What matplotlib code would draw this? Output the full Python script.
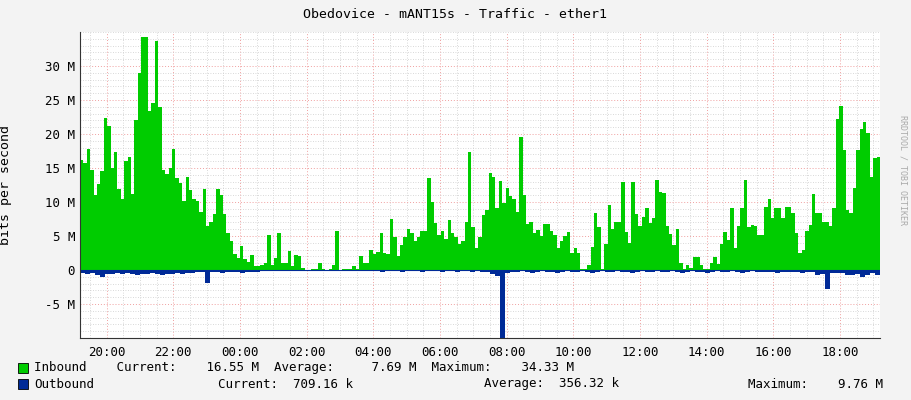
import numpy as np
import matplotlib
matplotlib.use("Agg")
import matplotlib.pyplot as plt
from matplotlib.ticker import MultipleLocator

# Inbound, Mbit/s, evenly spaced from 19:12 to 19:12 next day
inbound = [16.2,15.8,17.8,14.7,11,12.6,14.5,22.3,21.2,15,17.4,11.9,10.5,16,16.6,11.2,22,28.9,34.3,34.3,23.4,24.5,33.7,24,
 14.7,14.1,15,17.8,13.5,12.8,10.2,13.7,11.7,10.5,10.2,8.5,11.9,6.4,7,8.3,11.9,11,8.3,5.4,4.2,2.3,1.8,3.6,1.6,1.2,2.2,
 0.6,0.6,0.8,1.1,5.1,0.7,1.8,5.4,1.1,1,2.8,0.6,2.2,2,0.3,0,0,0.2,0.15,1,0.15,0,0.2,0.7,5.7,0,
 0.1,0.1,0.2,0.6,0.2,2,1.1,1,2.9,2.4,2.7,5.4,2.5,2.4,7.5,4.9,2,3.7,4.9,6.1,5.5,4.2,4.9,5.8,5.8,13.6,10,6.9,5.1,5.8,4.5,
 7.3,5.4,4.9,3.8,4.2,7.1,17.3,6.3,3.3,4.9,8.1,8.8,14.2,13.7,9.1,13.1,9.9,12,10.9,10.4,8.6,19.5,11,6.8,7.1,5.5,5.9,5,
 6.8,6.8,5.8,5.1,3.3,4.2,5,5.6,2.5,3.3,2.5,0.2,0.1,0.7,3.4,8.4,6.3,0.2,3.8,9.6,6.1,7,7.1,13,
 5.6,3.9,13,8.2,6.4,7.8,9.1,6.9,7.6,13.3,11.5,11.3,6.4,5.3,3.7,6.1,1.1,0.1,0.7,0.3,1.9,1.9,0.7,0.2,0.2,1,1.9,0.9,
 3.8,5.6,4.4,9.1,3.2,6.4,9.1,13.3,6.3,6.6,6.5,5.1,5.1,9.2,10.4,7.7,9.1,9.1,7.7,9.2,9.2,8.4,5.4,2.5,2.9,5.8,6.6,11.2,
 8.4,8.4,7.1,7.1,6.5,9.1,22.2,24.1,17.6,8.8,8.4,12,17.6,20.8,21.8,20.1,13.7,16.4,16.6]

outbound = ([-0.5,-0.6,-0.5,-0.7,-1.0,-0.6,-0.6,-0.5,-0.6,-0.5,-0.6,-0.7,-0.6,-0.6,-0.5,-0.6,-0.7,-0.6,-0.6,-0.5,-0.6,-0.4,-0.4,-0.3,-0.3,
 -1.9,
 -0.3,-0.3,-0.4,-0.3,-0.3,-0.3,-0.4,-0.3,-0.3,-0.3,-0.2,-0.2,-0.2,-0.1,-0.1,-0.1,-0.1,-0.1,-0.05,-0.05,-0.05,-0.05,-0.05,-0.05,-0.05,-0.05,-0.05,-0.1,-0.1,
 -0.1,-0.1,-0.2,-0.1,-0.1,-0.3,-0.1,-0.2,-0.2,-0.3,-0.1,-0.2,-0.2,-0.3,-0.2,-0.1,-0.2,-0.3,-0.2,-0.2,-0.3,-0.2,-0.2,-0.3,-0.2,-0.3,-0.3,
 -0.6,-0.9,-10.5,-0.5,-0.3,
 -0.3,-0.2,-0.3,-0.4,-0.3,-0.2,-0.3,-0.3,-0.4,-0.3,-0.2,-0.3,-0.3,-0.2,-0.3,-0.4,-0.3,-0.2,-0.3,-0.3,-0.2,-0.3,-0.3,-0.4,-0.3,-0.2,-0.3,-0.3,-0.2,-0.3,
 -0.3,-0.2,-0.3,-0.4,-0.3,-0.2,-0.3,-0.3,-0.4,-0.3,-0.2,-0.3,-0.3,-0.2,-0.3,-0.4,-0.3,-0.2,-0.3,-0.3,-0.3,-0.3,-0.4,-0.3,-0.3,-0.3,-0.3,-0.4,-0.3,-0.3,
 -0.8,-0.6,-2.8,-0.4,-0.5,-0.5,-0.8,-0.7,-0.6,-1.0,-0.7,-0.5,-0.8])

t0, t1 = 19.2, 43.2
tick_hours = [20, 22, 24, 26, 28, 30, 32, 34, 36, 38, 40, 42]
tick_labels = ["20:00", "22:00", "00:00", "02:00", "04:00", "06:00", "08:00",
               "10:00", "12:00", "14:00", "16:00", "18:00"]
ytick_vals = [-5, 0, 5, 10, 15, 20, 25, 30]
ytick_labels = ["-5 M", "0", "5 M", "10 M", "15 M", "20 M", "25 M", "30 M"]

plt.rcParams['font.family'] = ['DejaVu Sans Mono']
fig = plt.figure(figsize=(9.11, 4.0), dpi=100, facecolor="#f3f3f3")
ax = fig.add_axes([80/911, 62/400, 800/911, 306/400])
ax.set_facecolor("white")

ti = np.linspace(t0, t1, len(inbound) + 1)
ax.stairs(inbound, ti, fill=True, color="#00cc00", baseline=0, lw=0)
to = np.linspace(t0, t1, len(outbound) + 1)
ax.stairs(outbound, to, fill=True, color="#002a97", baseline=0, lw=0)
ax.axhline(0, color="#002a97", lw=0.8)

ax.set_xlim(t0, t1)
ax.set_ylim(-10, 35)
ax.set_xticks(tick_hours)
ax.set_xticklabels(tick_labels)
ax.set_yticks(ytick_vals)
ax.set_yticklabels(ytick_labels)
ax.xaxis.set_minor_locator(MultipleLocator(0.5))
ax.yaxis.set_minor_locator(MultipleLocator(1))
ax.grid(which="minor", color="#cccccc", ls=(0, (1, 2)), lw=0.6)
ax.grid(which="major", color="#f0a0a0", ls=(0, (1, 2)), lw=0.7)
ax.set_axisbelow(True)
ax.tick_params(which="both", length=0, labelsize=9, colors="#000000")
ax.tick_params(axis="x", pad=6)
for s in ["top", "right"]:
    ax.spines[s].set_visible(False)
for s in ["left", "bottom"]:
    ax.spines[s].set_color("#333333")
ax.set_ylabel("bits per second", fontsize=9.5)
ax.yaxis.set_label_coords(-0.085, 0.5)

fig.text(455/911, 1 - 14/400, "Obedovice - mANT15s - Traffic - ether1", ha="center", va="center", fontsize=9.5)
fig.text(903/911, 0.5 + 30/400, "RRDTOOL / TOBI OETIKER", rotation=270, ha="center", va="center",
         fontsize=6, color="#aaaaaa")

def sq(x, y, c):
    fig.patches.append(plt.Rectangle((x/911, 1 - (y+5)/400), 10/911, 10/400, transform=fig.transFigure,
                                     facecolor=c, edgecolor="black", lw=0.6))
sq(18, 368, "#00cc00")
sq(18, 384, "#002a97")
fs = 9
fig.text(34/911, 1-368/400, "Inbound    Current:    16.55 M  Average:     7.69 M  Maximum:    34.33 M",
         va="center", fontsize=fs)
fig.text(34/911, 1-384/400, "Outbound", va="center", fontsize=fs)
fig.text(218/911, 1-384/400, "Current:  709.16 k", va="center", fontsize=fs)
fig.text(484/911, 1-384/400, "Average:  356.32 k", va="center", fontsize=fs)
fig.text(748/911, 1-384/400, "Maximum:    9.76 M", va="center", fontsize=fs)

fig.savefig("out.png", dpi=100, facecolor=fig.get_facecolor())
